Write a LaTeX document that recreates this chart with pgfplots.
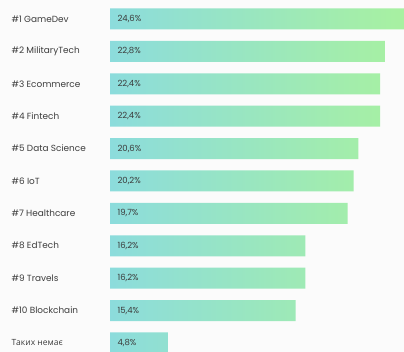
\documentclass[border=0pt]{standalone}
\usepackage{pgfplots}
\pgfplotsset{compat=1.18}
\usepackage{pgfplotstable}
\usepackage{fontspec}
\setmainfont{Poppins}
\newfontfamily\cyr{Open Sans}
\definecolor{bg}{HTML}{FBFBFB}
\definecolor{barL}{HTML}{8CDCDC}
\definecolor{barR}{HTML}{A8F1A0}
\definecolor{txt}{HTML}{3C3C3C}
\pgfplotstableread{
y v
0 24.6
1 22.8
2 22.4
3 22.4
4 20.6
5 20.2
6 19.7
7 16.2
8 16.2
9 15.4
10 4.8
}\data
\begin{document}
\begin{tikzpicture}
\path[use as bounding box, fill=bg] (0,0) rectangle (404pt,352pt);
\begin{axis}[
  at={(110pt,0pt)}, anchor=south west,
  scale only axis, width=294pt, height=352pt,
  xmin=0, xmax=24.38,
  ymin=-0.586, ymax=10.278, y dir=reverse,
  axis line style={draw=none},
  xtick=\empty,
  ytick={0,...,10},
  yticklabels={\#1 GameDev,\#2 MilitaryTech,\#3 Ecommerce,\#4 Fintech,\#5 Data Science,\#6 IoT,\#7 Healthcare,\#8 EdTech,\#9 Travels,\#10 Blockchain,{\cyr\fontsize{8.5}{9}\selectfont Таких немає}},
  ytick style={draw=none},
  yticklabel style={anchor=west, xshift=-102pt, font=\fontsize{8.9}{10}\selectfont, text=txt},
  clip=false,
]
\addplot[xbar, bar width=21pt, draw=none, left color=barL, right color=barR] table[x=v, y=y] {\data};
\addplot[draw=none, mark=none, point meta=\thisrow{v},
  nodes near coords={\pgfmathprintnumber[use comma, fixed, fixed zerofill, precision=1, assume math mode=true]{\pgfplotspointmeta}\%},
  every node near coord/.append style={anchor=west, xshift=4pt, font=\fontsize{8.5}{10}\selectfont, text=txt}]
  table[x expr=0, y=y] {\data};
\end{axis}
\end{tikzpicture}
\end{document}
